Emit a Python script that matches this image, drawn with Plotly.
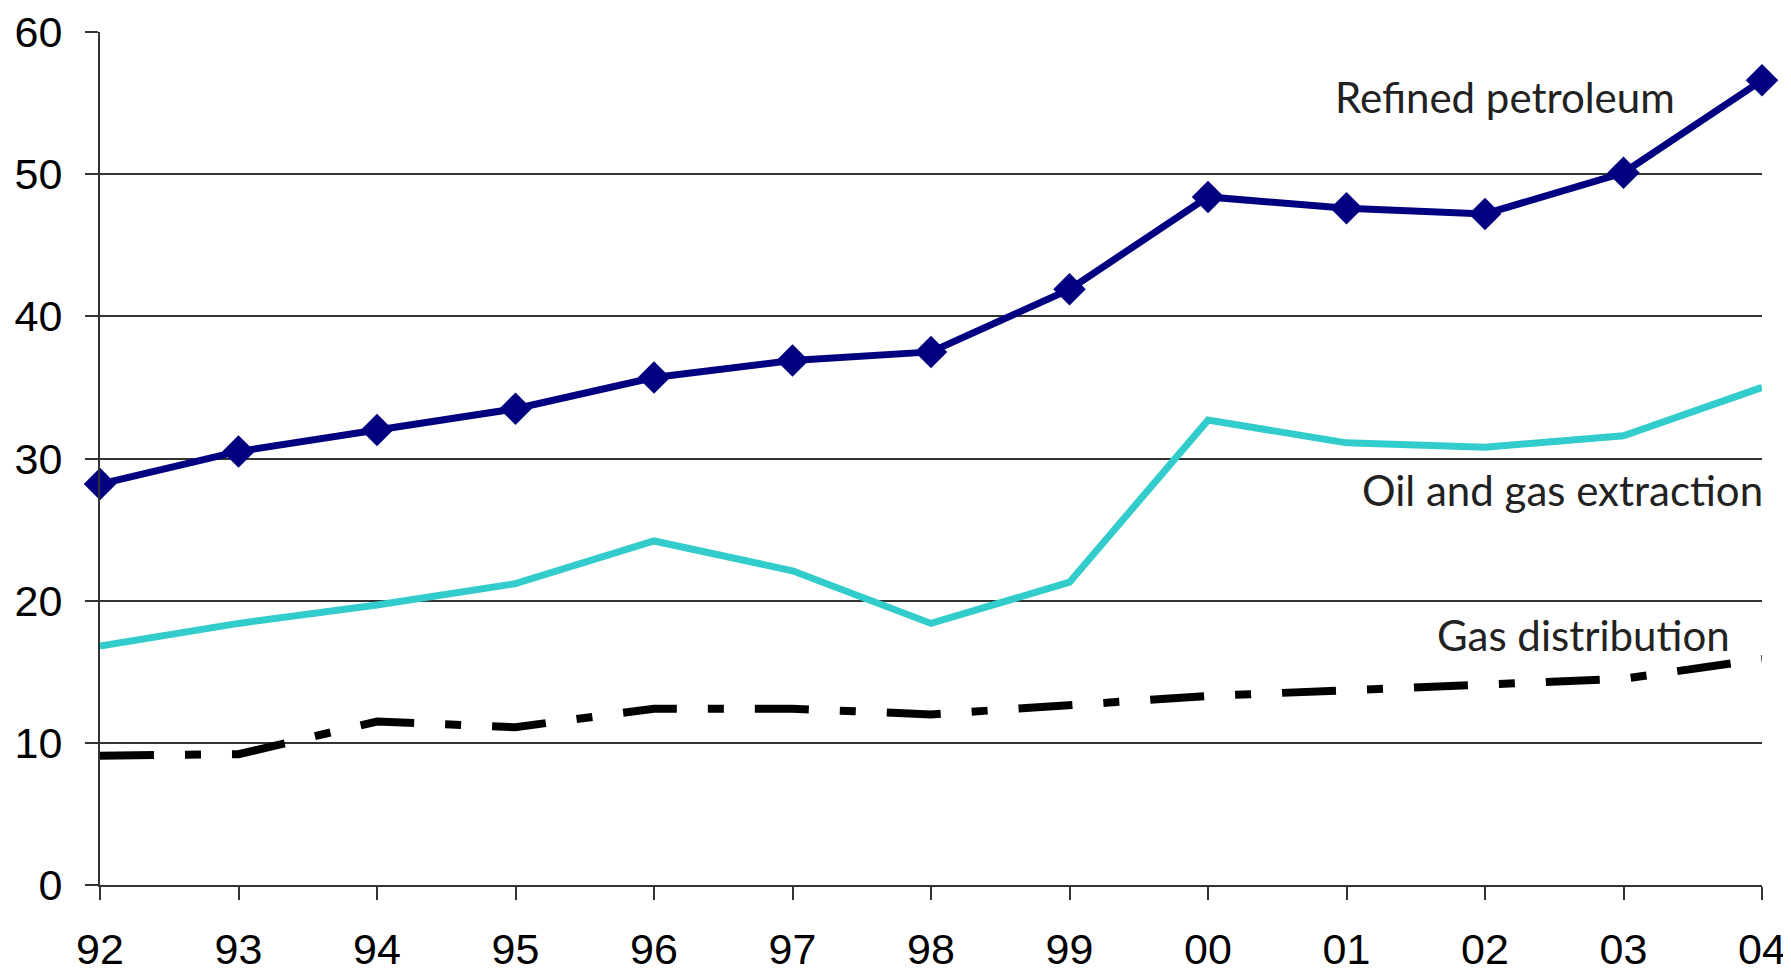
import plotly.graph_objects as go

years = ["92", "93", "94", "95", "96", "97", "98", "99", "00", "01", "02", "03", "04"]
refined_petroleum = [28.2, 30.5, 32.0, 33.5, 35.7, 36.9, 37.5, 41.9, 48.4, 47.6, 47.2, 50.1, 56.6]
oil_gas_extraction = [16.8, 18.4, 19.7, 21.2, 24.2, 22.1, 18.4, 21.3, 32.7, 31.1, 30.8, 31.6, 35.0]
gas_distribution = [9.1, 9.2, 11.5, 11.1, 12.4, 12.4, 12.0, 12.6, 13.3, 13.7, 14.1, 14.5, 15.9]
y_ticks = [0, 10, 20, 30, 40, 50, 60]

xs = list(range(len(years)))

fig = go.Figure()
fig.add_trace(go.Scatter(
    x=xs, y=gas_distribution, mode="lines", name="Gas distribution",
    line=dict(color="#000000", width=8, dash="54px,31px,16px,31px"),
    cliponaxis=False,
))
fig.add_trace(go.Scatter(
    x=xs, y=oil_gas_extraction, mode="lines", name="Oil and gas extraction",
    line=dict(color="#33CCCC", width=7),
    cliponaxis=False,
))
fig.add_trace(go.Scatter(
    x=xs, y=refined_petroleum, mode="lines+markers", name="Refined petroleum",
    line=dict(color="#000080", width=7),
    marker=dict(symbol="diamond", size=25, color="#000080"),
    cliponaxis=False,
))

ann_font = dict(family="Lato, Open Sans, sans-serif", size=42, color="#222222")
fig.add_annotation(x=0.949, y=0.924, xref="paper", yref="paper", text="Refined petroleum",
                   showarrow=False, xanchor="right", yanchor="middle", font=ann_font)
fig.add_annotation(x=1.002, y=0.463, xref="paper", yref="paper", text="Oil and gas extraction",
                   showarrow=False, xanchor="right", yanchor="middle", font=ann_font)
fig.add_annotation(x=0.982, y=0.293, xref="paper", yref="paper", text="Gas distribution",
                   showarrow=False, xanchor="right", yanchor="middle", font=ann_font)

tick_font = dict(family="Liberation Sans, Arial, sans-serif", size=43, color="#000000")

fig.update_layout(
    width=1791, height=970,
    margin=dict(l=92, r=37, t=24, b=93),
    plot_bgcolor="white", paper_bgcolor="white",
    showlegend=False,
    xaxis=dict(
        range=[0, 12], tickvals=xs, ticktext=years, showgrid=False, automargin=False,
        showline=True, linecolor="#333333", linewidth=2,
        ticks="outside", ticklen=13, tickwidth=2, tickcolor="#333333",
        tickfont=tick_font, ticklabelstandoff=12, zeroline=False,
        ticklabeloverflow="allow",
    ),
    yaxis=dict(
        range=[0, 60], tickvals=y_ticks, showgrid=True, gridcolor="#333333", gridwidth=1.5,
        showline=True, linecolor="#333333", linewidth=2, automargin=False,
        ticks="outside", ticklen=13, tickwidth=2, tickcolor="#333333",
        tickfont=tick_font, ticklabelstandoff=14, zeroline=False,
    ),
)

fig.write_html("out.html")
